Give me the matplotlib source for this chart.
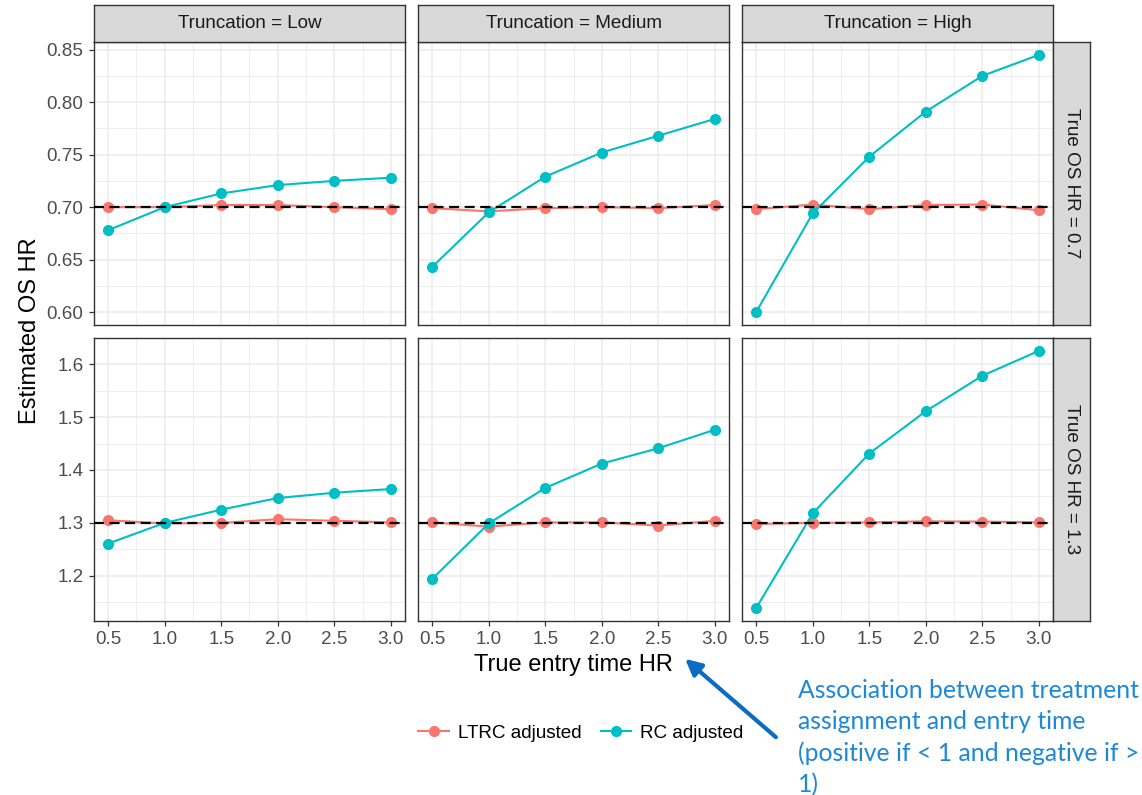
import numpy as np
import matplotlib.pyplot as plt
from matplotlib.lines import Line2D
from matplotlib.patches import FancyArrowPatch

plt.rcParams['font.family'] = ['Liberation Sans', 'DejaVu Sans']

# data
entry_hr = [0.5, 1.0, 1.5, 2.0, 2.5, 3.0]
truncation = ['Low', 'Medium', 'High']
true_os_hr = [0.7, 1.3]

ltrc = {
    (0.7, 'Low'):    [0.700, 0.700, 0.702, 0.702, 0.700, 0.698],
    (0.7, 'Medium'): [0.699, 0.696, 0.699, 0.700, 0.699, 0.702],
    (0.7, 'High'):   [0.698, 0.7025, 0.698, 0.702, 0.7025, 0.697],
    (1.3, 'Low'):    [1.305, 1.299, 1.300, 1.307, 1.304, 1.301],
    (1.3, 'Medium'): [1.301, 1.293, 1.301, 1.301, 1.295, 1.304],
    (1.3, 'High'):   [1.298, 1.300, 1.301, 1.303, 1.3025, 1.301],
}
rc = {
    (0.7, 'Low'):    [0.678, 0.700, 0.713, 0.721, 0.725, 0.728],
    (0.7, 'Medium'): [0.643, 0.695, 0.729, 0.752, 0.768, 0.784],
    (0.7, 'High'):   [0.600, 0.694, 0.748, 0.791, 0.825, 0.845],
    (1.3, 'Low'):    [1.261, 1.300, 1.325, 1.347, 1.357, 1.364],
    (1.3, 'Medium'): [1.194, 1.299, 1.366, 1.412, 1.441, 1.476],
    (1.3, 'High'):   [1.139, 1.318, 1.431, 1.511, 1.578, 1.625],
}

y_ticks = {0.7: [0.60, 0.65, 0.70, 0.75, 0.80, 0.85],
           1.3: [1.2, 1.3, 1.4, 1.5, 1.6]}
y_fmt = {0.7: '{:.2f}', 1.3: '{:.1f}'}

W, H = 1142, 795
RED = '#F8766D'
CYAN = '#00BFC4'
GRID = '#EBEBEB'
DARK = '#333333'
SMALL = 13.6
BIG = 17

fig = plt.figure(figsize=(W / 100, H / 100), dpi=100)


def box(l, t, r, b):
    return [l / W, 1 - b / H, (r - l) / W, (b - t) / H]


def strip(rect, label, rot):
    sx = fig.add_axes(rect)
    sx.set_facecolor('#D9D9D9')
    sx.set_xticks([])
    sx.set_yticks([])
    for s in sx.spines.values():
        s.set_color(DARK)
        s.set_linewidth(1.0)
    sx.text(0.5, 0.5, label, ha='center', va='center', rotation=rot,
            fontsize=SMALL, color='#1A1A1A', transform=sx.transAxes)


cols = [(94, 405), (418, 729), (742, 1053)]
rows = [(42, 325), (338, 621)]

for i, os_hr in enumerate(true_os_hr):
    allv = [v for k, s in list(ltrc.items()) + list(rc.items()) if k[0] == os_hr for v in s]
    lo, hi = min(allv), max(allv)
    pad = (hi - lo) * 0.05
    for j, tr in enumerate(truncation):
        l, r = cols[j]
        t, b = rows[i]
        ax = fig.add_axes(box(l, t, r, b))
        ax.set_xticks(entry_hr)
        ax.set_xticks([0.75, 1.25, 1.75, 2.25, 2.75], minor=True)
        yt = y_ticks[os_hr]
        ax.set_yticks(yt)
        step = yt[1] - yt[0]
        ax.set_yticks([v + step / 2 for v in [yt[0] - step] + yt], minor=True)
        ax.set_xlim(0.375, 3.125)
        ax.set_ylim(lo - pad, hi + pad)
        ax.grid(which='major', color=GRID, lw=1.1)
        ax.grid(which='minor', color=GRID, lw=0.6)
        ax.set_axisbelow(True)
        ax.tick_params(which='minor', length=0)
        ax.tick_params(which='major', length=3.5, width=0.9, color=DARK,
                       labelcolor='#4D4D4D', labelsize=SMALL, pad=4)
        for s in ax.spines.values():
            s.set_color(DARK)
            s.set_linewidth(1.0)
        if j == 0:
            ax.set_yticklabels([y_fmt[os_hr].format(v) for v in yt])
        else:
            ax.set_yticklabels([])
            ax.tick_params(axis='y', length=0)
        if i == 1:
            ax.set_xticklabels(['{:.1f}'.format(v) for v in entry_hr])
        else:
            ax.set_xticklabels([])
            ax.tick_params(axis='x', length=0)

        ax.plot(entry_hr, ltrc[(os_hr, tr)], '-o', color=RED, lw=1.5, ms=7, zorder=3)
        ax.plot(entry_hr, rc[(os_hr, tr)], '-o', color=CYAN, lw=1.5, ms=7, zorder=3)
        ax.axhline(os_hr, color='black', lw=1.6, dashes=(4.5, 2.5), zorder=4)

        if i == 0:
            strip(box(l, 5, r, 42), 'Truncation = ' + tr, 0)
        if j == 2:
            strip(box(1053, t, 1090, b), 'True OS HR = {}'.format(os_hr), -90)

fig.text(30 / W, 1 - 331 / H, 'Estimated OS HR', rotation=90, ha='center', va='center',
         fontsize=BIG)
fig.text(573 / W, 1 - 665 / H, 'True entry time HR', ha='center', va='center',
         fontsize=BIG)

handles = [Line2D([], [], color=RED, marker='o', lw=1.5, ms=7),
           Line2D([], [], color=CYAN, marker='o', lw=1.5, ms=7)]
fig.legend(handles, ['LTRC adjusted', 'RC adjusted'], loc='center',
           bbox_to_anchor=(581 / W, 1 - 733 / H), ncol=2, frameon=False,
           fontsize=SMALL, handlelength=1.6, columnspacing=1.0, handletextpad=0.5)

fig.add_artist(FancyArrowPatch(posA=(778 / W, 1 - 739 / H), posB=(683 / W, 1 - 657 / H),
                               transform=fig.transFigure, arrowstyle='-|>',
                               mutation_scale=24, lw=3, color='#0B6CC4'))
fig.text(798 / W, 1 - 679 / H,
         'Association between treatment\nassignment and entry time\n(positive if < 1 and negative if >\n1)',
         ha='left', va='top', fontsize=17.8, color='#1E88D8', family=['Lato', 'DejaVu Sans'],
         linespacing=1.42)

fig.savefig('out.png', dpi=100)
